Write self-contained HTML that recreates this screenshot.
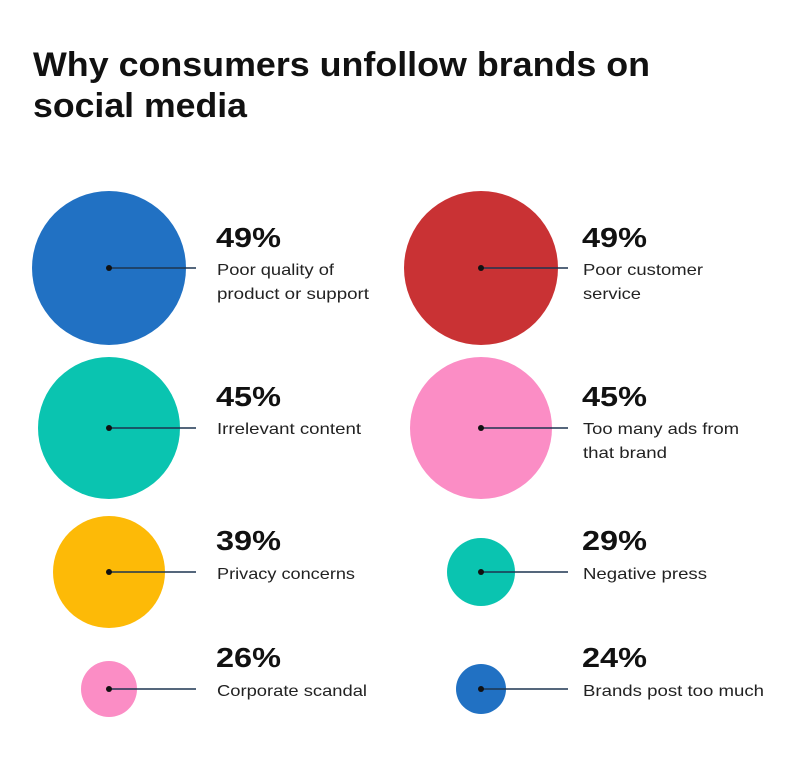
<!DOCTYPE html>
<html><head><style>
body{margin:0;background:#fff;width:800px;height:758px;overflow:hidden;font-family:"Liberation Sans",Arial,sans-serif}
</style></head><body>
<svg width="800" height="758" xmlns="http://www.w3.org/2000/svg" font-family="Liberation Sans, Arial, sans-serif">
<text x="33" y="76" font-size="34" font-weight="bold" fill="#111" textLength="617" lengthAdjust="spacingAndGlyphs">Why consumers unfollow brands on</text>
<text x="33" y="117" font-size="34" font-weight="bold" fill="#111" textLength="214" lengthAdjust="spacingAndGlyphs">social media</text>
<g>
<circle cx="109" cy="268" r="77" fill="#2171c3"/>
<circle cx="481" cy="268" r="77" fill="#c93234"/>
<circle cx="109" cy="428" r="71" fill="#0ac4b0"/>
<circle cx="481" cy="428" r="71" fill="#fb8dc5"/>
<circle cx="109" cy="572" r="56" fill="#fdba07"/>
<circle cx="481" cy="572" r="34" fill="#0ac4b0"/>
<circle cx="109" cy="689" r="28" fill="#fb8dc5"/>
<circle cx="481" cy="689" r="25" fill="#2171c3"/>
</g>
<g stroke="#1d3550" stroke-width="1.6">
<line x1="109" y1="268" x2="196" y2="268"/>
<line x1="481" y1="268" x2="568" y2="268"/>
<line x1="109" y1="428" x2="196" y2="428"/>
<line x1="481" y1="428" x2="568" y2="428"/>
<line x1="109" y1="572" x2="196" y2="572"/>
<line x1="481" y1="572" x2="568" y2="572"/>
<line x1="109" y1="689" x2="196" y2="689"/>
<line x1="481" y1="689" x2="568" y2="689"/>
</g>
<g fill="#111">
<circle cx="109" cy="268" r="3"/><circle cx="481" cy="268" r="3"/>
<circle cx="109" cy="428" r="3"/><circle cx="481" cy="428" r="3"/>
<circle cx="109" cy="572" r="3"/><circle cx="481" cy="572" r="3"/>
<circle cx="109" cy="689" r="3"/><circle cx="481" cy="689" r="3"/>
</g>
<g font-size="28" font-weight="bold" fill="#111">
<text x="216" y="247" textLength="65" lengthAdjust="spacingAndGlyphs">49%</text><text x="582" y="247" textLength="65" lengthAdjust="spacingAndGlyphs">49%</text>
<text x="216" y="406" textLength="65" lengthAdjust="spacingAndGlyphs">45%</text><text x="582" y="406" textLength="65" lengthAdjust="spacingAndGlyphs">45%</text>
<text x="216" y="550" textLength="65" lengthAdjust="spacingAndGlyphs">39%</text><text x="582" y="550" textLength="65" lengthAdjust="spacingAndGlyphs">29%</text>
<text x="216" y="667" textLength="65" lengthAdjust="spacingAndGlyphs">26%</text><text x="582" y="667" textLength="65" lengthAdjust="spacingAndGlyphs">24%</text>
</g>
<g font-size="16" fill="#222">
<text x="217" y="275" textLength="117" lengthAdjust="spacingAndGlyphs">Poor quality of</text><text x="217" y="299" textLength="152" lengthAdjust="spacingAndGlyphs">product or support</text>
<text x="583" y="275" textLength="120" lengthAdjust="spacingAndGlyphs">Poor customer</text><text x="583" y="299" textLength="58" lengthAdjust="spacingAndGlyphs">service</text>
<text x="217" y="434" textLength="144" lengthAdjust="spacingAndGlyphs">Irrelevant content</text>
<text x="583" y="434" textLength="156" lengthAdjust="spacingAndGlyphs">Too many ads from</text><text x="583" y="458" textLength="84" lengthAdjust="spacingAndGlyphs">that brand</text>
<text x="217" y="579" textLength="138" lengthAdjust="spacingAndGlyphs">Privacy concerns</text>
<text x="583" y="579" textLength="124" lengthAdjust="spacingAndGlyphs">Negative press</text>
<text x="217" y="696" textLength="150" lengthAdjust="spacingAndGlyphs">Corporate scandal</text>
<text x="583" y="696" textLength="181" lengthAdjust="spacingAndGlyphs">Brands post too much</text>
</g>
</svg>
</body></html>
